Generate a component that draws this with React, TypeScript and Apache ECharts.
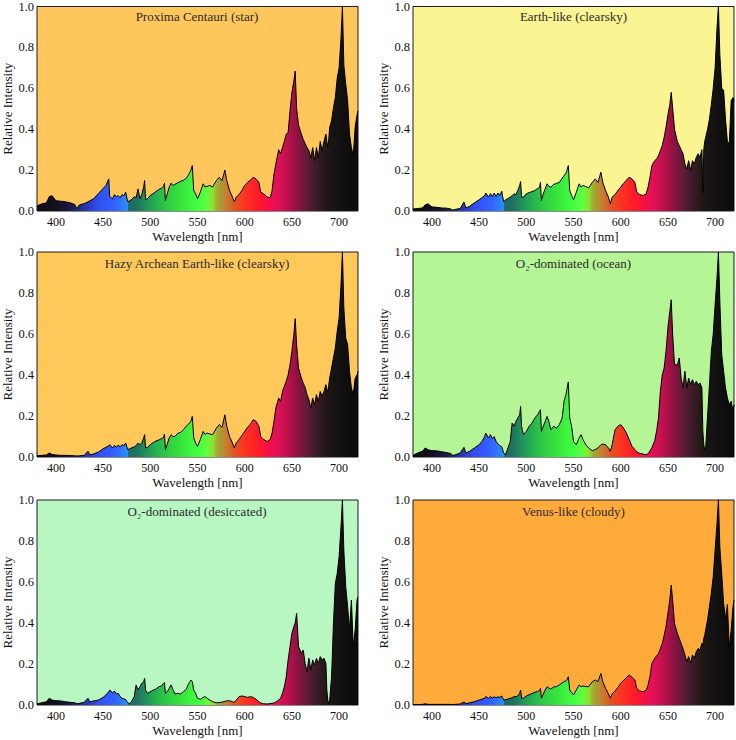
import React, { useEffect, useRef } from "react";
import * as echarts from "echarts";

// Shared wavelength grid [nm]
const wavelengths = [
  380, 385, 390, 393, 396, 400, 405, 410, 415, 420,
  422, 425, 430, 434, 436, 440, 445, 450, 453, 456,
  457, 460, 462, 464, 466, 468, 470, 472, 474, 476,
  478, 480, 483, 485, 487, 489, 491, 493, 494, 495,
  497, 500, 503, 506, 509, 512, 514, 515, 516, 518,
  520, 522, 524, 526, 529, 532, 535, 538, 540, 542,
  543, 544.5, 546, 548, 550, 553, 556, 558, 560, 563,
  566, 570, 573, 576, 579, 581, 584, 587, 589, 591,
  594, 597, 600, 603, 606, 609, 612, 615, 617, 620,
  624, 627, 629, 631, 633, 636, 638, 640, 642, 644,
  646, 648, 650, 652, 653.5, 655, 657, 660, 662, 664,
  666, 668, 670, 672, 674, 676, 678, 680, 682, 684,
  686, 687, 688, 689, 690, 692, 694, 696, 698, 700,
  702, 703.5, 705, 707, 709, 711, 713, 715, 717, 719,
  720,
];

const proximaStar = [
  0.025, 0.035, 0.04, 0.07, 0.075, 0.05, 0.048, 0.045, 0.04, 0.032,
  0.012, 0.03, 0.036, 0.045, 0.05, 0.06, 0.085, 0.11, 0.125, 0.157,
  0.07, 0.06, 0.08, 0.07, 0.075, 0.065, 0.08, 0.075, 0.092, 0.045,
  0.05, 0.055, 0.07, 0.065, 0.108, 0.06, 0.08, 0.117, 0.149, 0.055,
  0.06, 0.076, 0.085, 0.095, 0.105, 0.112, 0.12, 0.136, 0.052, 0.084,
  0.117, 0.136, 0.125, 0.13, 0.138, 0.145, 0.15, 0.16, 0.173, 0.19,
  0.2, 0.222, 0.1, 0.084, 0.06, 0.092, 0.133, 0.117, 0.12, 0.125,
  0.117, 0.149, 0.165, 0.149, 0.2, 0.149, 0.1, 0.068, 0.044, 0.068,
  0.08, 0.1, 0.125, 0.14, 0.15, 0.165, 0.157, 0.14, 0.092, 0.084,
  0.068, 0.065, 0.1, 0.18, 0.23, 0.3, 0.28, 0.31, 0.34, 0.376,
  0.384, 0.49, 0.58, 0.635, 0.684, 0.5, 0.42, 0.376, 0.35, 0.33,
  0.31, 0.295, 0.26, 0.31, 0.246, 0.31, 0.26, 0.34, 0.295, 0.34,
  0.376, 0.34, 0.31, 0.35, 0.41, 0.44, 0.505, 0.554, 0.65, 0.7,
  0.846, 1.0, 0.716, 0.62, 0.54, 0.376, 0.31, 0.27, 0.41, 0.47,
  0.49,
];

const earthClear = [
  0.01, 0.012, 0.015, 0.03, 0.035, 0.02, 0.018, 0.015, 0.014, 0.01,
  0.005, 0.008, 0.012, 0.044, 0.015, 0.023, 0.04, 0.055, 0.065, 0.076,
  0.088, 0.068, 0.085, 0.07, 0.088, 0.07, 0.088, 0.076, 0.097, 0.044,
  0.055, 0.06, 0.068, 0.075, 0.084, 0.08, 0.1, 0.125, 0.144, 0.068,
  0.068, 0.084, 0.09, 0.095, 0.1, 0.11, 0.115, 0.14, 0.052, 0.084,
  0.108, 0.133, 0.12, 0.117, 0.13, 0.135, 0.14, 0.16, 0.173, 0.185,
  0.198, 0.222, 0.1, 0.076, 0.055, 0.092, 0.133, 0.117, 0.125, 0.12,
  0.113, 0.14, 0.157, 0.14, 0.19, 0.14, 0.1, 0.068, 0.036, 0.068,
  0.08, 0.1, 0.117, 0.135, 0.15, 0.165, 0.157, 0.14, 0.092, 0.08,
  0.076, 0.084, 0.117, 0.165, 0.222, 0.246, 0.255, 0.27, 0.295, 0.32,
  0.36, 0.41, 0.47, 0.52, 0.58, 0.505, 0.4, 0.34, 0.32, 0.3,
  0.28, 0.23, 0.205, 0.246, 0.198, 0.246, 0.23, 0.262, 0.28, 0.262,
  0.3, 0.09, 0.3, 0.34, 0.36, 0.4, 0.45, 0.52, 0.6, 0.7,
  0.895, 1.0, 0.765, 0.6, 0.59, 0.45, 0.34, 0.33, 0.54, 0.555,
  0.54,
];

const hazyArchean = [
  0.006, 0.008, 0.01, 0.02, 0.012, 0.01, 0.008, 0.008, 0.007, 0.006,
  0.005, 0.006, 0.008, 0.028, 0.01, 0.015, 0.024, 0.04, 0.047, 0.055,
  0.06, 0.044, 0.057, 0.048, 0.058, 0.05, 0.06, 0.055, 0.068, 0.036,
  0.04, 0.044, 0.05, 0.055, 0.068, 0.06, 0.07, 0.093, 0.109, 0.044,
  0.047, 0.06, 0.07, 0.078, 0.083, 0.09, 0.095, 0.112, 0.036, 0.063,
  0.093, 0.109, 0.1, 0.1, 0.115, 0.12, 0.133, 0.15, 0.158, 0.17,
  0.174, 0.198, 0.093, 0.068, 0.052, 0.085, 0.125, 0.109, 0.117, 0.112,
  0.109, 0.141, 0.158, 0.145, 0.206, 0.15, 0.1, 0.068, 0.044, 0.068,
  0.085, 0.105, 0.125, 0.145, 0.16, 0.182, 0.174, 0.15, 0.1, 0.085,
  0.076, 0.085, 0.117, 0.174, 0.239, 0.288, 0.27, 0.32, 0.345, 0.37,
  0.4, 0.45, 0.515, 0.597, 0.675, 0.548, 0.434, 0.385, 0.36, 0.34,
  0.304, 0.28, 0.239, 0.288, 0.255, 0.304, 0.27, 0.32, 0.296, 0.32,
  0.353, 0.33, 0.32, 0.35, 0.385, 0.434, 0.483, 0.532, 0.613, 0.678,
  0.84, 1.0, 0.727, 0.58, 0.548, 0.418, 0.337, 0.304, 0.385, 0.4,
  0.418,
];

const o2Ocean = [
  0.008, 0.02, 0.028, 0.044, 0.035, 0.031, 0.03, 0.026, 0.022, 0.017,
  0.008, 0.011, 0.02, 0.047, 0.02, 0.028, 0.044, 0.06, 0.076, 0.1,
  0.117, 0.093, 0.109, 0.09, 0.1, 0.076, 0.063, 0.055, 0.05, 0.02,
  0.011, 0.036, 0.076, 0.166, 0.15, 0.174, 0.19, 0.206, 0.247, 0.15,
  0.109, 0.125, 0.15, 0.166, 0.19, 0.206, 0.223, 0.231, 0.125, 0.15,
  0.174, 0.198, 0.174, 0.133, 0.15, 0.141, 0.158, 0.19, 0.272, 0.304,
  0.33, 0.366, 0.19, 0.15, 0.076, 0.06, 0.093, 0.109, 0.085, 0.06,
  0.044, 0.031, 0.036, 0.045, 0.06, 0.063, 0.06, 0.044, 0.028, 0.06,
  0.133, 0.15, 0.158, 0.141, 0.117, 0.085, 0.052, 0.036, 0.025, 0.018,
  0.014, 0.011, 0.016, 0.03, 0.045, 0.08, 0.125, 0.19, 0.32, 0.4,
  0.434, 0.515, 0.63, 0.71, 0.767, 0.6, 0.45, 0.45, 0.483, 0.385,
  0.337, 0.418, 0.337, 0.385, 0.353, 0.377, 0.353, 0.369, 0.353, 0.361,
  0.337, 0.125, 0.06, 0.036, 0.044, 0.2, 0.353, 0.515, 0.6, 0.743,
  0.873, 1.0, 0.76, 0.5, 0.418, 0.337, 0.288, 0.255, 0.272, 0.223,
  0.255,
];

const o2Desiccated = [
  0.005, 0.011, 0.016, 0.033, 0.024, 0.021, 0.02, 0.016, 0.013, 0.011,
  0.007, 0.008, 0.013, 0.033, 0.015, 0.02, 0.024, 0.037, 0.049, 0.065,
  0.073, 0.06, 0.068, 0.054, 0.057, 0.041, 0.033, 0.03, 0.026, 0.011,
  0.007, 0.016, 0.041, 0.098, 0.073, 0.089, 0.106, 0.114, 0.13, 0.073,
  0.057, 0.065, 0.073, 0.078, 0.089, 0.093, 0.106, 0.109, 0.057, 0.065,
  0.081, 0.098, 0.076, 0.054, 0.057, 0.054, 0.065, 0.076, 0.098, 0.114,
  0.122, 0.114, 0.073, 0.057, 0.033, 0.028, 0.037, 0.041, 0.033, 0.024,
  0.016, 0.011, 0.012, 0.014, 0.018, 0.02, 0.021, 0.016, 0.013, 0.024,
  0.041, 0.044, 0.041, 0.037, 0.041, 0.037, 0.028, 0.016, 0.01, 0.006,
  0.005, 0.007, 0.008, 0.01, 0.015, 0.025, 0.033, 0.057, 0.089, 0.138,
  0.22, 0.285, 0.35, 0.382, 0.4, 0.447, 0.285, 0.252, 0.268, 0.203,
  0.163, 0.228, 0.171, 0.22, 0.195, 0.228, 0.203, 0.236, 0.22, 0.228,
  0.203, 0.073, 0.024, 0.008, 0.024, 0.138, 0.398, 0.593, 0.642, 0.724,
  0.87, 1.0, 0.756, 0.577, 0.48, 0.366, 0.512, 0.285, 0.366, 0.512,
  0.528,
];

const venusCloudy = [
  0.002, 0.002, 0.003, 0.006, 0.003, 0.003, 0.003, 0.003, 0.003, 0.003,
  0.002, 0.003, 0.005, 0.015, 0.007, 0.011, 0.016, 0.024, 0.028, 0.033,
  0.041, 0.033, 0.041, 0.034, 0.04, 0.035, 0.04, 0.037, 0.044, 0.024,
  0.026, 0.028, 0.033, 0.035, 0.041, 0.04, 0.045, 0.057, 0.073, 0.033,
  0.033, 0.044, 0.05, 0.056, 0.062, 0.066, 0.07, 0.081, 0.033, 0.054,
  0.073, 0.089, 0.082, 0.078, 0.088, 0.09, 0.098, 0.108, 0.114, 0.118,
  0.122, 0.138, 0.073, 0.06, 0.049, 0.073, 0.098, 0.089, 0.093, 0.09,
  0.089, 0.114, 0.122, 0.114, 0.154, 0.114, 0.081, 0.054, 0.033, 0.054,
  0.068, 0.085, 0.106, 0.12, 0.133, 0.146, 0.135, 0.122, 0.081, 0.068,
  0.065, 0.073, 0.098, 0.138, 0.203, 0.228, 0.24, 0.25, 0.276, 0.3,
  0.34, 0.382, 0.447, 0.512, 0.585, 0.512, 0.398, 0.35, 0.325, 0.3,
  0.276, 0.244, 0.211, 0.236, 0.203, 0.244, 0.228, 0.26, 0.276, 0.268,
  0.301, 0.29, 0.325, 0.34, 0.366, 0.415, 0.48, 0.545, 0.626, 0.756,
  0.886, 1.0, 0.772, 0.64, 0.496, 0.42, 0.49, 0.28, 0.366, 0.48,
  0.512,
];

const panelTitles = [
  "Proxima Centauri (star)",
  "Earth-like (clearsky)",
  "Hazy Archean Earth-like (clearsky)",
  "O₂-dominated (ocean)",
  "O₂-dominated (desiccated)",
  "Venus-like (cloudy)",
];
const panelValues = [proximaStar, earthClear, hazyArchean, o2Ocean, o2Desiccated, venusCloudy];
const xTicks = [400, 450, 500, 550, 600, 650, 700];
const xMin = 380;
const xMax = 720;

// styling
const backgrounds = ["#FFC65B", "#FAF592", "#FFC85B", "#B5F596", "#B8F7C2", "#FFAB3B"];
const layout = [
  { left: 36, top: 5, width: 322, height: 206 },
  { left: 413, top: 5, width: 321, height: 206 },
  { left: 36, top: 252, width: 322, height: 205 },
  { left: 413, top: 252, width: 321, height: 205 },
  { left: 36, top: 500, width: 322, height: 205 },
  { left: 413, top: 500, width: 321, height: 205 },
];
const spectrumStops: [number, string][] = [
  [380, "#0d0d0d"], [400, "#15101f"], [415, "#1b1b45"], [425, "#222c88"],
  [435, "#2a3cc4"], [445, "#3050f0"], [455, "#3358ff"], [465, "#3068ff"],
  [472, "#2a82ff"], [476, "#2592f0"], [477, "#1e6a66"], [486, "#1f7260"],
  [495, "#20905c"], [505, "#25ae50"], [520, "#30d042"], [535, "#3ae83c"],
  [550, "#40ff40"], [560, "#60ff40"], [566, "#90e032"], [572, "#a4a432"],
  [580, "#c48030"], [590, "#e25222"], [600, "#ff3420"], [615, "#ff1a28"],
  [625, "#f51045"], [635, "#e01058"], [645, "#c0104c"], [655, "#921242"],
  [665, "#641a3a"], [675, "#3e1c2a"], [685, "#241818"], [695, "#151313"],
  [720, "#0b0b0b"],
];

const FONT = "'Liberation Serif', 'DejaVu Serif', serif";

export default function App() {
  const ref = useRef<HTMLDivElement>(null);
  useEffect(() => {
    if (!ref.current) return;
    const chart = echarts.init(ref.current, undefined, { renderer: "svg" });
    const gradient = () =>
      new echarts.graphic.LinearGradient(
        0, 0, 1, 0,
        spectrumStops.map(([w, c]) => ({ offset: (w - xMin) / (xMax - xMin), color: c }))
      );
    const grids = layout.map((g, i) => ({
      ...g,
      show: true,
      backgroundColor: backgrounds[i],
      borderColor: "#1a1a1a",
      borderWidth: 1,
      containLabel: false,
    }));
    const xAxes = layout.map((_, i) => ({
      type: "value",
      gridIndex: i,
      min: xMin,
      max: xMax,
      axisLine: { show: false },
      axisTick: { show: false },
      splitLine: { show: false },
      axisLabel: {
        customValues: xTicks,
        color: "#111",
        fontFamily: FONT,
        fontSize: 12,
        margin: 5,
      },
      name: "Wavelength [nm]",
      nameLocation: "middle",
      nameGap: 19,
      nameTextStyle: { color: "#111", fontFamily: FONT, fontSize: 13 },
    }));
    const yAxes = layout.map((_, i) => ({
      type: "value",
      gridIndex: i,
      min: 0,
      max: 1,
      interval: 0.2,
      axisLine: { show: false },
      axisTick: { show: false },
      splitLine: { show: false },
      axisLabel: {
        formatter: (v: number) => v.toFixed(1),
        color: "#111",
        fontFamily: FONT,
        fontSize: 12.5,
        margin: 3,
      },
      name: "Relative Intensity",
      nameLocation: "middle",
      nameGap: 23,
      nameRotate: 90,
      nameTextStyle: { color: "#111", fontFamily: FONT, fontSize: 13 },
    }));
    const series = panelValues.map((vals, i) => ({
      type: "line",
      xAxisIndex: i,
      yAxisIndex: i,
      data: wavelengths.map((w, j) => [w, vals[j]]),
      symbol: "none",
      showSymbol: false,
      lineStyle: { color: "#000", width: 1 },
      areaStyle: { color: gradient(), opacity: 1 },
      z: 3,
    }));
    const titles = layout.map((g, i) => ({
      type: "text",
      x: g.left + g.width / 2,
      y: g.top + 11,
      z: 10,
      style: {
        text: panelTitles[i],
        align: "center",
        verticalAlign: "middle",
        fill: "#2a2a2a",
        font: `13px ${FONT}`,
      },
    }));
    chart.setOption({
      animation: false,
      backgroundColor: "#ffffff",
      grid: grids,
      xAxis: xAxes,
      yAxis: yAxes,
      series,
      graphic: titles,
    });
    return () => chart.dispose();
  }, []);
  return (
    <div
      ref={ref}
      style={{ position: "absolute", left: 0, top: 0, width: 736, height: 740 }}
    />
  );
}
